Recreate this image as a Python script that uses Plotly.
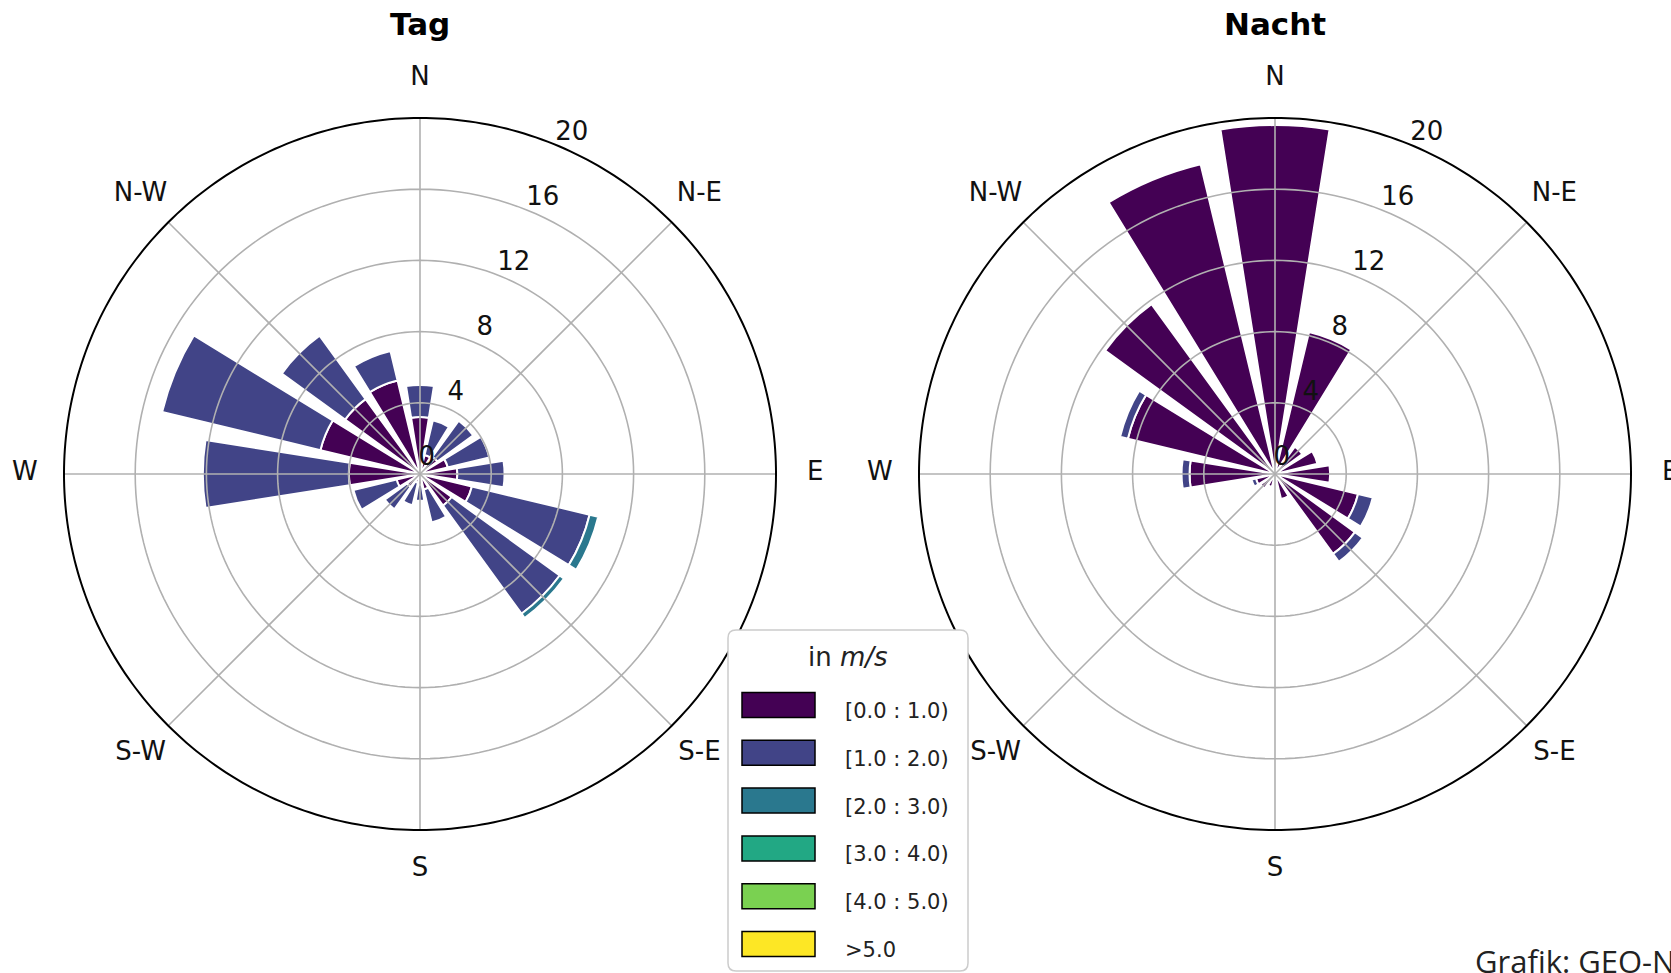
import plotly.graph_objects as go

# ---------------------------------------------------------------------------
# Wind rose data: frequency (%) per direction sector and wind-speed class
# ---------------------------------------------------------------------------
DIRECTIONS = ["N", "NNE", "NE", "ENE", "E", "ESE", "SE", "SSE",
              "S", "SSW", "SW", "WSW", "W", "WNW", "NW", "NNW"]
SECTOR_DEG = [0, 22.5, 45, 67.5, 90, 112.5, 135, 157.5,
              180, 202.5, 225, 247.5, 270, 292.5, 315, 337.5]

SPEED_BINS = ["[0.0 : 1.0)", "[1.0 : 2.0)", "[2.0 : 3.0)",
              "[3.0 : 4.0)", "[4.0 : 5.0)", ">5.0"]
BIN_COLORS = ["#440154", "#414487", "#2a788e", "#22a884", "#7ad151", "#fde725"]

# Day ("Tag")
TAG_0_1 = [3.2, 1.1, 1.2, 1.6, 2.1, 3.0, 2.2, 0.9, 0.6, 0.5, 0.9, 1.35, 4.0, 5.75, 5.2, 5.4]
TAG_1_2 = [1.8, 2.0, 2.5, 2.4, 2.65, 6.8, 7.5, 1.9, 0.9, 1.3, 1.55, 2.5, 8.2, 9.15, 4.4, 1.7]
TAG_2_3 = [0, 0, 0, 0, 0, 0.5, 0.3, 0, 0, 0, 0, 0, 0, 0, 0, 0]
TAG_3_4 = [0] * 16
TAG_4_5 = [0] * 16
TAG_GT5 = [0] * 16

# Night ("Nacht")
NACHT_0_1 = [19.6, 8.2, 1.9, 2.45, 3.1, 4.8, 5.55, 1.45, 0.4, 0.75, 1.0, 1.1, 4.8, 8.5, 11.8, 17.9]
NACHT_1_2 = [0, 0, 0, 0, 0, 0.85, 0.55, 0, 0, 0, 0, 0.25, 0.45, 0.45, 0, 0]
NACHT_2_3 = [0] * 16
NACHT_3_4 = [0] * 16
NACHT_4_5 = [0] * 16
NACHT_GT5 = [0] * 16

PANELS = [
    ("Tag", "polar", [TAG_0_1, TAG_1_2, TAG_2_3, TAG_3_4, TAG_4_5, TAG_GT5]),
    ("Nacht", "polar2", [NACHT_0_1, NACHT_1_2, NACHT_2_3, NACHT_3_4, NACHT_4_5, NACHT_GT5]),
]

COMPASS_TICKS = [0, 45, 90, 135, 180, 225, 270, 315]
COMPASS_LABELS = ["N", "N-E", "E", "S-E", "S", "S-W", "W", "N-W"]
RADIAL_TICKS = [0, 4, 8, 12, 16, 20]
R_MAX = 20            # outer frame of the rose
R_VIEW = 22.24        # radial extent of the subplot, leaves room for labels

# ---------------------------------------------------------------------------
# Layout helpers
# ---------------------------------------------------------------------------
W, H = 1671, 973
FONT = "DejaVu Sans"
GRID = "#b0b0b0"
PX_PER_UNIT = 17.8
CENTERS = {"polar": (420, 474), "polar2": (1275, 474)}


def px(x):
    return x / W


def py(y):
    return 1 - y / H


SECTOR_WIDTH = 18          # 80 % of a 22.5 degree sector
RADIAL_LABEL_PAD = 0.95    # radial labels sit slightly beyond their ring
RADIAL_LABEL_ANGLE = 24
COMPASS_LABEL_R = 22.2

fig = go.Figure()

for title, subplot, bins in PANELS:
    # stacked wind-speed segments
    for name, color, values in zip(SPEED_BINS, BIN_COLORS, bins):
        if not any(values):
            continue
        fig.add_trace(go.Barpolar(
            r=values, theta=SECTOR_DEG, width=SECTOR_WIDTH,
            marker=dict(color=color, line=dict(color="white", width=2)),
            name=name, subplot=subplot, showlegend=False,
            hovertext=DIRECTIONS, hoverinfo="text+r",
        ))

    # grid drawn over the bars: rings and spokes
    g_r, g_t = [], []
    for ring in RADIAL_TICKS[1:-1]:
        g_r += [ring] * 181 + [None]
        g_t += [i * 2 for i in range(181)] + [None]
    for ang in COMPASS_TICKS:
        g_r += [0, R_MAX, None]
        g_t += [ang, ang, None]
    fig.add_trace(go.Scatterpolar(
        r=g_r, theta=g_t, mode="lines", subplot=subplot,
        line=dict(color=GRID, width=1.6), hoverinfo="skip",
        showlegend=False, connectgaps=False,
    ))

    # black outer frame
    fig.add_trace(go.Scatterpolar(
        r=[R_MAX] * 361, theta=list(range(361)), mode="lines", subplot=subplot,
        line=dict(color="black", width=2), hoverinfo="skip", showlegend=False,
    ))

    # radial tick labels
    fig.add_trace(go.Scatterpolar(
        r=[t + RADIAL_LABEL_PAD for t in RADIAL_TICKS],
        theta=[RADIAL_LABEL_ANGLE] * len(RADIAL_TICKS),
        text=[str(t) for t in RADIAL_TICKS], mode="text",
        textfont=dict(family=FONT, size=26, color="#111"),
        textposition="middle center", subplot=subplot,
        hoverinfo="skip", showlegend=False, cliponaxis=False,
    ))

    # compass labels outside the frame
    fig.add_trace(go.Scatterpolar(
        r=[COMPASS_LABEL_R] * len(COMPASS_TICKS), theta=COMPASS_TICKS,
        text=COMPASS_LABELS, mode="text",
        textfont=dict(family=FONT, size=26, color="#111"),
        textposition="middle center", subplot=subplot,
        hoverinfo="skip", showlegend=False, cliponaxis=False,
    ))

polar_common = dict(
    bgcolor="white",
    angularaxis=dict(direction="clockwise", rotation=90, thetaunit="degrees",
                     showgrid=False, showticklabels=False, ticks="",
                     showline=False),
    radialaxis=dict(range=[0, R_VIEW], showgrid=False, showticklabels=False,
                    ticks="", showline=False),
)


def domain_for(subplot):
    cx, cy = CENTERS[subplot]
    half = R_VIEW * PX_PER_UNIT
    return dict(x=[max(0, px(cx - half)), min(1, px(cx + half))],
                y=[max(0, py(cy + half)), min(1, py(cy - half))])


fig.update_layout(
    width=W, height=H, autosize=False,
    margin=dict(l=0, r=0, t=0, b=0),
    paper_bgcolor="white",
    font=dict(family=FONT, color="#111"),
    polar=dict(domain=domain_for("polar"), **polar_common),
    polar2=dict(domain=domain_for("polar2"), **polar_common),
    showlegend=False,
)

# panel titles
for title, subplot in (("Tag", "polar"), ("Nacht", "polar2")):
    fig.add_annotation(x=px(CENTERS[subplot][0]), y=py(24), xref="paper", yref="paper",
                       text=f"<b>{title}</b>", showarrow=False,
                       font=dict(family=FONT, size=31, color="black"),
                       xanchor="center", yanchor="middle")

# ---------------------------------------------------------------------------
# Legend box for the wind-speed classes
# ---------------------------------------------------------------------------
bx0, bx1, by0, by1, rad = 728, 968, 630, 971, 8
x0, x1, yt, yb = px(bx0), px(bx1), py(by0), py(by1)
rx, ry = rad / W, rad / H
box_path = (f"M {x0+rx},{yt} L {x1-rx},{yt} Q {x1},{yt} {x1},{yt-ry} "
            f"L {x1},{yb+ry} Q {x1},{yb} {x1-rx},{yb} "
            f"L {x0+rx},{yb} Q {x0},{yb} {x0},{yb+ry} "
            f"L {x0},{yt-ry} Q {x0},{yt} {x0+rx},{yt} Z")
fig.add_shape(type="path", path=box_path, xref="paper", yref="paper",
              fillcolor="white", line=dict(color="#cccccc", width=1.5),
              layer="above")

fig.add_annotation(x=px(848), y=py(657), xref="paper", yref="paper",
                   text="in <i>m/s</i>", showarrow=False,
                   font=dict(family=FONT, size=26, color="#222"),
                   xanchor="center", yanchor="middle")

ROW0, ROW_STEP = 705, 47.8
for i, (name, color) in enumerate(zip(SPEED_BINS, BIN_COLORS)):
    yc = ROW0 + i * ROW_STEP
    fig.add_shape(type="rect", xref="paper", yref="paper",
                  x0=px(742), x1=px(815), y0=py(yc - 12.5), y1=py(yc + 12.5),
                  fillcolor=color, line=dict(color="black", width=1.5),
                  layer="above")
    fig.add_annotation(x=px(843), y=py(yc + 6), xref="paper", yref="paper",
                       text=name, showarrow=False,
                       font=dict(family=FONT, size=21, color="#222"),
                       xanchor="left", yanchor="middle")

# credit line
fig.add_annotation(x=px(1473), y=py(961), xref="paper", yref="paper",
                   text="Grafik: GEO-N", showarrow=False,
                   font=dict(family="Open Sans", size=31, color="#222"),
                   xanchor="left", yanchor="middle")

fig.write_html("out.html")
